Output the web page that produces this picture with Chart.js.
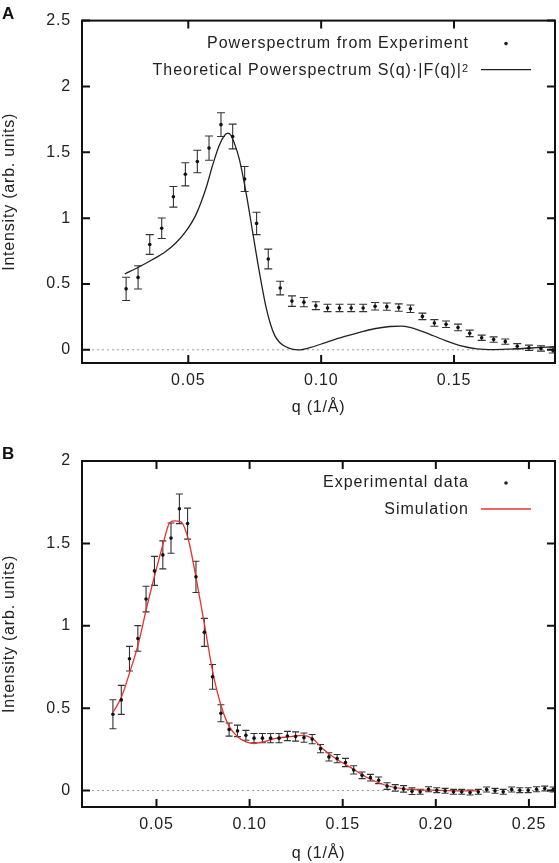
<!DOCTYPE html>
<html>
<head>
<meta charset="utf-8">
<script src="https://cdn.jsdelivr.net/npm/chart.js@4.4.3/dist/chart.umd.min.js"></script>
<style>
  body { margin: 0; background: #fff; }
  #page { position: relative; width: 559px; height: 863px; }
  .panel { position: absolute; left: 0; width: 559px; }
  .tag { position: absolute; left: 2px; font: bold 17px "Liberation Sans", Arial, sans-serif; color: #111; }
</style>
</head>
<body>
<div id="page">
  <div class="panel" style="top:0;height:420px"><canvas id="chartA"></canvas></div>
  <div class="panel" style="top:420px;height:443px"><canvas id="chartB"></canvas></div>
  <div class="tag" style="top:4px">A</div>
  <div class="tag" style="top:444px">B</div>
</div>
<script>
// measured powerspectrum (shared by both panels)
const qExp = [0.0266, 0.0311, 0.0355, 0.0400, 0.0444, 0.0489, 0.0534, 0.0578, 0.0623, 0.0667,
              0.0712, 0.0757, 0.0801, 0.0846, 0.0890, 0.0935, 0.0980, 0.1024, 0.1069, 0.1113,
              0.1158, 0.1203, 0.1247, 0.1292, 0.1336, 0.1381, 0.1426, 0.1470, 0.1515, 0.1559,
              0.1604, 0.1649, 0.1693, 0.1738, 0.1782, 0.1827, 0.1872, 0.1916, 0.1961, 0.2005,
              0.2050, 0.2095, 0.2139, 0.2184, 0.2228, 0.2273, 0.2318, 0.2362, 0.2407, 0.2451,
              0.2496, 0.2541, 0.2585, 0.2630];
const iExp = [0.463, 0.550, 0.800, 0.923, 1.162, 1.333, 1.430, 1.532, 1.710, 1.620,
              1.297, 0.960, 0.690, 0.469, 0.370, 0.362, 0.335, 0.318, 0.318, 0.318,
              0.318, 0.331, 0.328, 0.321, 0.312, 0.254, 0.204, 0.194, 0.170, 0.125,
              0.092, 0.078, 0.062, 0.027, 0.016, 0.010, -0.004, -0.008, 0.008, 0.002,
              -0.002, -0.008, -0.008, -0.012, -0.008, 0.006, -0.002, -0.008, 0.006, 0.002,
              0.002, 0.008, 0.012, 0.006];
const errExp = [0.088, 0.088, 0.075, 0.078, 0.078, 0.088, 0.085, 0.092, 0.090, 0.094,
                0.095, 0.085, 0.075, 0.052, 0.040, 0.035, 0.030, 0.028, 0.028, 0.028,
                0.028, 0.028, 0.028, 0.028, 0.028, 0.025, 0.025, 0.025, 0.025, 0.025,
                0.020, 0.020, 0.020, 0.020, 0.020, 0.020, 0.020, 0.015, 0.015, 0.015,
                0.015, 0.015, 0.015, 0.015, 0.015, 0.015, 0.015, 0.015, 0.015, 0.015,
                0.015, 0.015, 0.015, 0.015];

// theoretical S(q)|F(q)|^2 (panel A)
const qTheory = [0.0261, 0.0314, 0.0364, 0.0415, 0.0452, 0.0490, 0.0528, 0.0566, 0.0591, 0.0616,
                 0.0635, 0.0648, 0.0660, 0.0675, 0.0692, 0.0717, 0.0742, 0.0767, 0.0793, 0.0810,
                 0.0825, 0.0843, 0.0865, 0.0890, 0.0915, 0.0960, 0.1019, 0.1080, 0.1145, 0.1200,
                 0.1259, 0.1300, 0.1334, 0.1380, 0.1422, 0.1470, 0.1523, 0.1586, 0.1650, 0.1712,
                 0.1770, 0.1813, 0.1850, 0.1885];
const iTheory = [0.576, 0.629, 0.684, 0.747, 0.809, 0.897, 1.023, 1.223, 1.398, 1.549,
                 1.624, 1.645, 1.630, 1.560, 1.448, 1.198, 0.897, 0.596, 0.320, 0.190,
                 0.110, 0.058, 0.025, 0.006, 0.000, 0.018, 0.057, 0.096, 0.132, 0.160,
                 0.177, 0.180, 0.170, 0.140, 0.107, 0.068, 0.032, 0.008, 0.002, 0.006,
                 0.012, 0.016, 0.020, 0.025];

// simulation (panel B)
const qSim = [0.0268, 0.0312, 0.0357, 0.0403, 0.0448, 0.0493, 0.0536, 0.0568, 0.0595, 0.0631,
              0.0672, 0.0715, 0.0760, 0.0804, 0.0849, 0.0892, 0.0937, 0.0981, 0.1026, 0.1071,
              0.1140, 0.1230, 0.1283, 0.1337, 0.1391, 0.1462, 0.1552, 0.1641, 0.1731, 0.1838,
              0.1981, 0.2124, 0.2222];
const iSim = [0.477, 0.568, 0.720, 0.892, 1.114, 1.317, 1.499, 1.620, 1.636, 1.630,
              1.519, 1.276, 0.993, 0.710, 0.507, 0.386, 0.325, 0.295, 0.285, 0.295,
              0.316, 0.329, 0.335, 0.316, 0.255, 0.194, 0.133, 0.073, 0.032, 0.008,
              0.002, -0.002, -0.002];

const xTicksA = [0.05, 0.10, 0.15];
const yTicksA = [0, 0.5, 1, 1.5, 2, 2.5];
const xTicksB = [0.05, 0.10, 0.15, 0.20, 0.25];
const yTicksB = [0, 0.5, 1, 1.5, 2];

const FONT = '"Liberation Sans", Arial, sans-serif';
Chart.defaults.font.family = FONT;

// gnuplot-ish look: dotted zero line, error bars, boxed frame with inward ticks, right-aligned key
const gnuFrame = {
  id: 'gnuFrame',
  beforeDraw(chart) {
    // the original lettering runs a little wider than Liberation Sans
    chart.ctx.letterSpacing = '0.8px';
  },
  beforeDatasetsDraw(chart, args, opts) {
    const { ctx, chartArea: a, scales: { x, y } } = chart;
    ctx.save();
    ctx.beginPath();
    ctx.rect(a.left, a.top, a.width, a.height);
    ctx.clip();

    const y0 = y.getPixelForValue(0);
    ctx.strokeStyle = '#9a9a9a';
    ctx.lineWidth = 1;
    ctx.setLineDash([2, 3]);
    ctx.beginPath();
    ctx.moveTo(a.left, y0);
    ctx.lineTo(a.right, y0);
    ctx.stroke();
    ctx.setLineDash([]);

    ctx.strokeStyle = '#333';
    ctx.lineWidth = 1.1;
    const cap = opts.capHalf;
    qExp.forEach((q, i) => {
      if (q > x.max) return;
      const px = x.getPixelForValue(q);
      const lo = y.getPixelForValue(iExp[i] - errExp[i]);
      const hi = y.getPixelForValue(iExp[i] + errExp[i]);
      ctx.beginPath();
      ctx.moveTo(px, lo); ctx.lineTo(px, hi);
      ctx.moveTo(px - cap, lo); ctx.lineTo(px + cap, lo);
      ctx.moveTo(px - cap, hi); ctx.lineTo(px + cap, hi);
      ctx.stroke();
    });
    ctx.restore();
  },
  afterDatasetsDraw(chart) {
    const { ctx, chartArea: a, scales: { x, y } } = chart;
    const len = 8;
    ctx.save();
    ctx.strokeStyle = '#111';
    ctx.lineWidth = 2;
    ctx.strokeRect(a.left, a.top, a.width, a.height);
    ctx.beginPath();
    x.ticks.forEach(t => {
      const px = x.getPixelForValue(t.value);
      ctx.moveTo(px, a.bottom); ctx.lineTo(px, a.bottom - len);
      ctx.moveTo(px, a.top); ctx.lineTo(px, a.top + len);
    });
    y.ticks.forEach(t => {
      const py = y.getPixelForValue(t.value);
      ctx.moveTo(a.left, py); ctx.lineTo(a.left + len, py);
      ctx.moveTo(a.right, py); ctx.lineTo(a.right - len, py);
    });
    ctx.stroke();
    ctx.restore();
  },
  afterDraw(chart, args, opts) {
    const { ctx, chartArea: a } = chart;
    ctx.save();
    ctx.fillStyle = '#222';
    ctx.letterSpacing = '1px';
    opts.legend.forEach((item, k) => {
      const yy = a.top + opts.legendTop + k * opts.legendGap;
      let xr = a.right - 86;
      if (item.sup) {
        ctx.font = '11px ' + FONT;
        ctx.textAlign = 'right';
        ctx.textBaseline = 'alphabetic';
        ctx.fillText(item.sup, xr, yy + 1);
        xr -= ctx.measureText(item.sup).width;
      }
      ctx.font = '16px ' + FONT;
      ctx.textAlign = 'right';
      ctx.textBaseline = 'middle';
      ctx.fillText(item.text, xr, yy);
      if (item.kind === 'dot') {
        ctx.beginPath();
        ctx.arc(a.right - 49, yy, 1.8, 0, Math.PI * 2);
        ctx.fill();
      } else {
        ctx.strokeStyle = item.color;
        ctx.lineWidth = 1.3;
        ctx.beginPath();
        ctx.moveTo(a.right - 74, yy - 1);
        ctx.lineTo(a.right - 24, yy - 1);
        ctx.stroke();
      }
    });
    ctx.restore();
  }
};

function makePanel(id, cfg) {
  const expPoints = [];
  qExp.forEach((q, i) => { if (q <= cfg.xMax) expPoints.push({ x: q, y: iExp[i] }); });
  const curve = cfg.curveQ.map((q, i) => ({ x: q, y: cfg.curveI[i] }));

  return new Chart(document.getElementById(id), {
    type: 'scatter',
    data: {
      datasets: [
        {
          label: cfg.legend[0].text,
          data: expPoints,
          pointRadius: 1.8,
          pointBackgroundColor: '#111',
          pointBorderWidth: 0
        },
        {
          label: cfg.legend[1].text,
          data: curve,
          showLine: true,
          borderColor: cfg.curveColor,
          borderWidth: 1.3,
          pointRadius: 0,
          cubicInterpolationMode: 'monotone'
        }
      ]
    },
    options: {
      responsive: true,
      maintainAspectRatio: false,
      animation: false,
      events: [],
      layout: { padding: { top: cfg.padTop, right: 2, left: 0, bottom: 0 } },
      plugins: {
        legend: { display: false },
        tooltip: { enabled: false },
        gnuFrame: { legend: cfg.legend, legendTop: cfg.legendTop, legendGap: 27, capHalf: cfg.capHalf }
      },
      scales: {
        x: {
          type: 'linear',
          min: cfg.xMin,
          max: cfg.xMax,
          grid: { display: false, drawTicks: false },
          border: { display: false },
          afterBuildTicks: s => { s.ticks = cfg.xTicks.map(v => ({ value: v })); },
          afterFit: s => { s.height = cfg.xHeight; },
          ticks: { padding: 8, color: '#222', font: { size: 16 }, maxRotation: 0, autoSkip: false,
                   callback: v => v.toFixed(2) },
          title: { display: true, text: 'q (1/Å)', color: '#222', font: { size: 16 },
                   padding: { top: 0, bottom: cfg.xTitlePad } }
        },
        y: {
          type: 'linear',
          min: cfg.yMin,
          max: cfg.yMax,
          grid: { display: false, drawTicks: false },
          border: { display: false },
          afterBuildTicks: s => { s.ticks = cfg.yTicks.map(v => ({ value: v })); },
          afterFit: s => { s.width = 82; },
          ticks: { padding: 11, color: '#222', font: { size: 16 }, autoSkip: false,
                   callback: v => String(v) },
          title: { display: true, text: 'Intensity (arb. units)', color: '#222', font: { size: 16 },
                   padding: { top: 0, bottom: 0 } }
        }
      }
    },
    plugins: [gnuFrame]
  });
}

makePanel('chartA', {
  xMin: 0.01, xMax: 0.188, yMin: -0.1, yMax: 2.5,
  xTicks: xTicksA, yTicks: yTicksA,
  curveQ: qTheory, curveI: iTheory, curveColor: '#222',
  padTop: 16, xHeight: 57, xTitlePad: 3, capHalf: 4,
  legendTop: 23,
  legend: [
    { text: 'Powerspectrum from Experiment', kind: 'dot' },
    { text: 'Theoretical Powerspectrum S(q)\u00b7|F(q)|', sup: '2', kind: 'line', color: '#222' }
  ]
});

makePanel('chartB', {
  xMin: 0.01, xMax: 0.264, yMin: -0.1, yMax: 2,
  xTicks: xTicksB, yTicks: yTicksB,
  curveQ: qSim, curveI: iSim, curveColor: '#e8312f',
  padTop: 41, xHeight: 56, xTitlePad: 0, capHalf: 3.5,
  legendTop: 22,
  legend: [
    { text: 'Experimental data', kind: 'dot' },
    { text: 'Simulation', kind: 'line', color: '#e8312f' }
  ]
});
</script>
</body>
</html>
